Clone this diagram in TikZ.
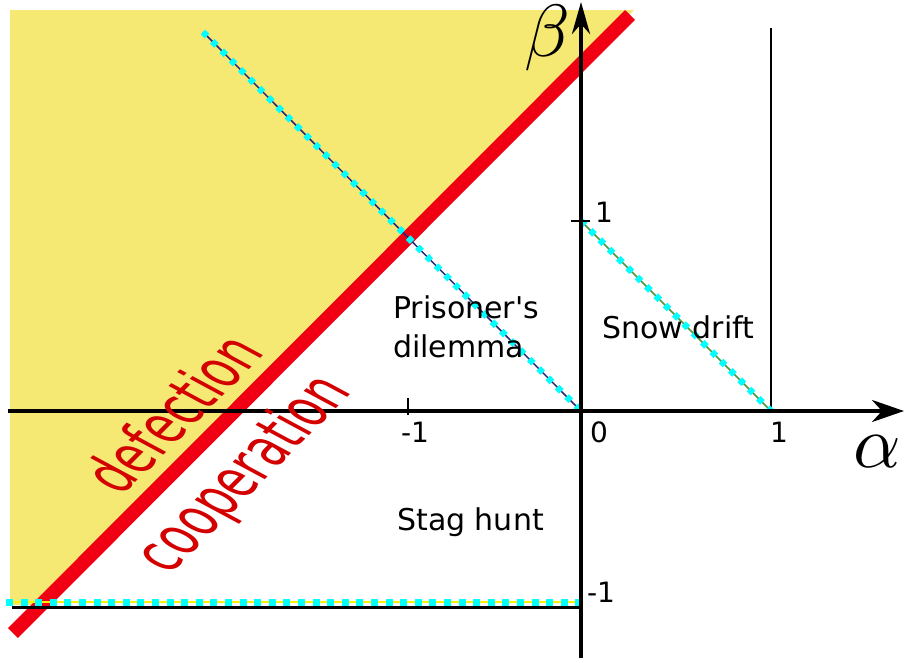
\documentclass[tikz,border=0pt]{standalone}
\usepackage{fontspec}
\setmainfont{DejaVu Sans}[Ligatures=TeXOff]
\usetikzlibrary{arrows.meta}
\definecolor{regionyellow}{RGB}{245,232,115}
\definecolor{boundaryred}{RGB}{240,0,18}
\definecolor{wordred}{RGB}{212,0,0}
\definecolor{dotcyan}{RGB}{0,255,255}
\definecolor{linenavy}{RGB}{40,40,120}
\definecolor{linegreen}{RGB}{80,150,60}
\begin{document}
\begin{tikzpicture}[x=1pt,y=-1pt,
  region/.style={text=black,font=\fontsize{30}{39}\selectfont,inner sep=0pt,anchor=base west},
  ticklbl/.style={font=\fontsize{28}{30}\selectfont,inner sep=0pt},
  greek/.style={font=\fontsize{10}{12}\selectfont,inner sep=0pt,scale=7.4},
  sideword/.style={text=wordred,font=\fontsize{64}{64}\selectfont,inner sep=0pt,rotate=45,xslant=-0.3,xscale=0.68},
  axisline/.style={line width=4pt},
  cyandots/.style={dotcyan,line width=7pt,dash pattern=on 7pt off 7.6pt},
  cyandotsdiag/.style={dotcyan,line width=6.5pt,dash pattern=on 5.8pt off 7.4pt}]
\useasboundingbox (0,0) rectangle (904,662);
% coordinates
\coordinate (O) at (581,411);
\coordinate (xl) at (8,411);
\coordinate (xr) at (904,411);
\coordinate (yb) at (581,658);
\coordinate (yt) at (581,2);
\coordinate (rb) at (13,633);
\coordinate (rt) at (630,15);
\coordinate (d1s) at (203,32);
\coordinate (b1) at (581,221);
\coordinate (a1) at (771,411);
\coordinate (a1top) at (771,28);
\coordinate (hl) at (6,602);
\coordinate (hr) at (581,602);
\coordinate (kl) at (12,607);
\coordinate (kr) at (581,607);
% defection region
\fill[regionyellow] (10,10) -- (634,10) -- (39,605) -- (10,605) -- cycle;
% boundary
\draw[boundaryred,line width=14pt] (rb) -- (rt);
% thin vertical at alpha=1
\draw[line width=1.5pt] (a1top) -- (a1);
% dotted lines
\draw[linenavy,line width=1.5pt] (d1s) -- (O);
\draw[cyandotsdiag] (d1s) -- (O);
\draw[linegreen,line width=1.5pt] (b1) -- (a1);
\draw[cyandotsdiag] (b1) -- (a1);
\draw[line width=3pt] (kl) -- (kr);
\draw[yellow,line width=1.5pt] (hl) -- (hr);
\draw[cyandots] (hl) -- (hr);
% axes
\draw[axisline,-{Stealth[length=32pt,width=22pt,inset=10pt]}] (xl) -- (xr);
\draw[axisline,-{Stealth[length=32pt,width=18pt,inset=10pt]}] (yb) -- (yt);
% ticks
\coordinate (t1a) at (408,398); \coordinate (t1b) at (408,415);
\coordinate (t2a) at (571,221); \coordinate (t2b) at (590,221);
\draw[line width=1.5pt] (t1a) -- (t1b);
\draw[line width=1.5pt] (t2a) -- (t2b);
% tick labels
\node[ticklbl] (lm1) at (415,432) {-1};
\node[ticklbl] (l0) at (599,432) {0};
\node[ticklbl] (l1) at (779,432) {1};
\node[ticklbl] (lb1) at (604,212) {1};
\node[ticklbl] (lbm1) at (601,592) {-1};
% axis names
\node[greek] (alpha) at (877,452) {$\alpha$};
\node[greek] (beta) at (547,38) {$\beta$};
% region labels
\node[region] (pd1) at (393,318) {Prisoner's};
\node[region] (pd2) at (393,357) {dilemma};
\node[region] (sd) at (602,338) {Snow drift};
\node[region] (sh) at (397,530) {Stag hunt};
% side words
\node[sideword] (def) at (172,413) {defection};
\node[sideword] (coop) at (245,475) {cooperation};
\end{tikzpicture}
\end{document}
